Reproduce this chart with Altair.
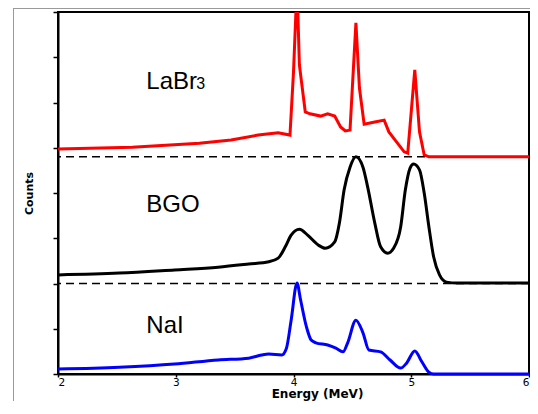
import altair as alt
import pandas as pd

# ---- data ----
labbr_energy = [2.00, 2.63, 3.20, 3.47, 3.70, 3.87, 3.97, 4.00, 4.03, 4.05, 4.10, 4.14, 4.23,
                4.29, 4.35, 4.40, 4.44, 4.48, 4.53, 4.56, 4.60, 4.69, 4.77, 4.81, 4.94, 4.97,
                5.03, 5.07, 5.11, 5.15, 6.00]
labbr_counts = [4.97, 5.01, 5.10, 5.17, 5.28, 5.33, 5.28, 6.67, 8.60, 6.83, 5.79, 5.75, 5.70,
                5.75, 5.70, 5.46, 5.37, 5.39, 7.76, 6.32, 5.52, 5.57, 5.61, 5.35, 4.91, 4.88,
                6.72, 5.35, 4.84, 4.80, 4.80]

bgo_energy = [2.00, 2.52, 2.99, 3.36, 3.62, 3.79, 3.87, 3.93, 3.98, 4.05, 4.12, 4.21, 4.27,
              4.35, 4.39, 4.43, 4.48, 4.53, 4.59, 4.63, 4.69, 4.74, 4.80, 4.85, 4.91, 4.95,
              4.99, 5.02, 5.07, 5.11, 5.15, 5.19, 5.24, 5.30, 5.39, 6.00]
bgo_counts = [2.19, 2.23, 2.30, 2.36, 2.43, 2.48, 2.56, 2.81, 3.07, 3.20, 3.07, 2.85, 2.78,
              2.92, 3.34, 4.07, 4.57, 4.80, 4.57, 4.13, 3.34, 2.81, 2.67, 2.78, 3.25, 4.07,
              4.55, 4.64, 4.51, 4.00, 3.25, 2.59, 2.19, 2.03, 2.01, 2.01]

nai_energy = [2.00, 2.52, 2.99, 3.36, 3.62, 3.73, 3.79, 3.90, 3.94, 3.98, 4.03, 4.06, 4.11,
              4.15, 4.19, 4.29, 4.36, 4.42, 4.46, 4.53, 4.59, 4.64, 4.74, 4.82, 4.91, 4.96,
              5.03, 5.09, 5.15, 5.19, 6.00]
nai_counts = [0.11, 0.15, 0.22, 0.31, 0.35, 0.42, 0.44, 0.42, 0.57, 1.19, 2.01, 1.64, 1.04,
              0.75, 0.69, 0.64, 0.57, 0.49, 0.69, 1.19, 0.91, 0.53, 0.49, 0.31, 0.13, 0.24,
              0.51, 0.27, 0.04, 0.00, 0.00]

baseline_levels = [4.80, 2.00]

label_text = ["LaBr", "BGO", "NaI"]
label_energy = [2.75, 2.75, 2.75]
label_counts = [6.30, 3.58, 0.906]
sub_text = ["3"]
sub_energy = [3.175]
sub_counts = [6.30]

x_ticks = [2, 3, 4, 5, 6]
y_ticks = [0, 1, 2, 3, 4, 5, 6, 7, 8]

# ---- scales / axes ----
xscale = alt.Scale(domain=[2, 6], nice=False, zero=False)
yscale = alt.Scale(domain=[0, 8], nice=False)

xaxis = alt.Axis(values=x_ticks, format="d", title="Energy (MeV)", grid=False, tickSize=3,
                 labelFont="DejaVu Sans", labelFontSize=10.5, labelColor="black",
                 labelPadding=0, titleFont="DejaVu Sans", titleFontSize=12,
                 titleFontWeight="bold", titleColor="black", titleX=259, titleY=23.5,
                 titleBaseline="alphabetic", titleAlign="center")
yaxis = alt.Axis(values=y_ticks, title="Counts", grid=False, labels=False, tickSize=5,
                 titleFont="DejaVu Sans", titleFontSize=11, titleFontWeight="bold",
                 titleColor="black", titleX=-29, titleY=181, titleAngle=-90,
                 titleBaseline="middle", titleAlign="center")


def spectrum(energy, counts, color, interp, clip=False):
    df = pd.DataFrame({"energy": energy, "counts": counts})
    return alt.Chart(df).mark_line(color=color, strokeWidth=3, interpolate=interp,
                                   clip=clip).encode(
        x=alt.X("energy:Q", scale=xscale, axis=xaxis),
        y=alt.Y("counts:Q", scale=yscale, axis=yaxis),
    )


dashes = alt.Chart(pd.DataFrame({"level": baseline_levels})).mark_rule(
    color="black", strokeWidth=1.5, strokeDash=[8, 5]
).encode(y=alt.Y("level:Q", scale=yscale, axis=yaxis))

red = spectrum(labbr_energy, labbr_counts, "#FF0000", "linear", clip=True)
black = spectrum(bgo_energy, bgo_counts, "#000000", "monotone")
blue = spectrum(nai_energy, nai_counts, "#0000FF", "monotone")

labels = alt.Chart(pd.DataFrame({"t": label_text, "e": label_energy, "c": label_counts})).mark_text(
    font="Liberation Sans", fontSize=24, align="left", baseline="alphabetic", color="black"
).encode(x=alt.X("e:Q", scale=xscale), y=alt.Y("c:Q", scale=yscale), text="t:N")

subs = alt.Chart(pd.DataFrame({"t": sub_text, "e": sub_energy, "c": sub_counts})).mark_text(
    font="Liberation Sans", fontSize=16, align="left", baseline="alphabetic", color="black"
).encode(x=alt.X("e:Q", scale=xscale), y=alt.Y("c:Q", scale=yscale), text="t:N")

# outer chart-area frame (grey, top and left edges), decoration only
frame_df = pd.DataFrame({"k": [0]})
frame_top = alt.Chart(frame_df).mark_rule(color="#9a9a9a", strokeWidth=1).encode(
    x=alt.value(-45), x2=alt.value(475), y=alt.value(-3.5))
frame_left = alt.Chart(frame_df).mark_rule(color="#9a9a9a", strokeWidth=1).encode(
    x=alt.value(-44.5), y=alt.value(-3.5), y2=alt.value(392))

chart = alt.layer(frame_top, frame_left, dashes, red, black, blue, labels, subs).properties(
    width=471, height=362,
    autosize=alt.AutoSizeParams(type="none"),
    padding={"left": 50, "top": 4, "right": 1, "bottom": 27},
).configure_view(stroke="black", strokeWidth=2).configure_axis(
    domainColor="black", domainWidth=2, tickColor="black", tickWidth=1.5
)

chart.save("out.html", embed_options={"renderer": "svg", "actions": False})
